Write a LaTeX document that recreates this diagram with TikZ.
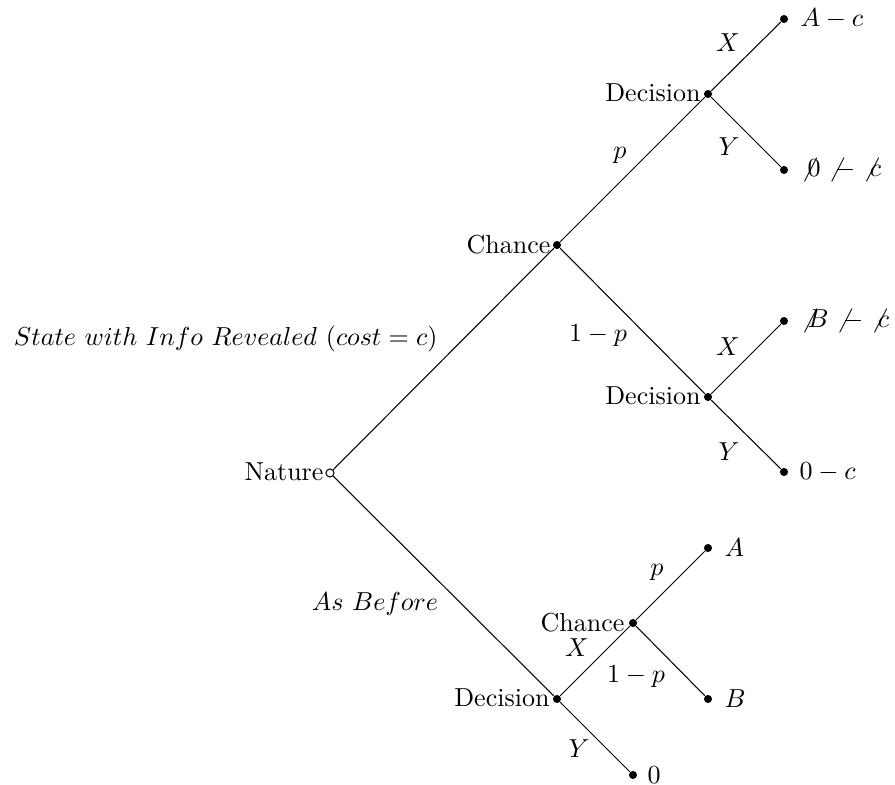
\documentclass[tikz,border=0pt]{standalone}
\begin{document}
\begin{tikzpicture}[x=0.3846pt,y=-0.3846pt,
  blackdot/.style={circle,fill=black,inner sep=0pt,minimum size=3.1pt},
  opendot/.style={circle,draw=black,fill=white,inner sep=0pt,minimum size=3.1pt,line width=0.4pt},
  conn/.style={line width=0.4pt},
  lbl/.style={inner sep=0pt},
  leaflbl/.style={inner sep=0pt,anchor=west},
  nodename/.style={inner sep=0pt,anchor=mid east}]
\useasboundingbox (0,0) rectangle (895,785);
% nodes
\node[opendot] (nat) at (330,473) {};
\node[blackdot] (ch1) at (557,245) {};
\node[blackdot] (d1) at (708,94) {};
\node[blackdot] (l1) at (784,19) {};
\node[blackdot] (l2) at (784,170) {};
\node[blackdot] (d2) at (708,397) {};
\node[blackdot] (l3) at (784,321) {};
\node[blackdot] (l4) at (784,472) {};
\node[blackdot] (d3) at (557,699) {};
\node[blackdot] (ch2) at (633,623) {};
\node[blackdot] (l5) at (708,548) {};
\node[blackdot] (l6) at (708,699) {};
\node[blackdot] (l7) at (633,775) {};
% edges
\draw[conn] (nat) -- (ch1);
\draw[conn] (nat) -- (d3);
\draw[conn] (ch1) -- (d1);
\draw[conn] (ch1) -- (d2);
\draw[conn] (d1) -- (l1);
\draw[conn] (d1) -- (l2);
\draw[conn] (d2) -- (l3);
\draw[conn] (d2) -- (l4);
\draw[conn] (d3) -- (ch2);
\draw[conn] (d3) -- (l7);
\draw[conn] (ch2) -- (l5);
\draw[conn] (ch2) -- (l6);
% node names
\node[nodename] (tnat) at (324,475) {Nature};
\node[nodename] (tch1) at (551,248) {Chance};
\node[nodename] (td1) at (701,96) {Decision};
\node[nodename] (td2) at (701,399) {Decision};
\node[nodename] (td3) at (550,701) {Decision};
\node[nodename] (tch2) at (625,626) {Chance};
% leaf labels
\node[leaflbl] (tl1) at (800,19) {$A-c$};
\node[leaflbl] (tl2) at (800,170) {$\not0\not-\not c$};
\node[leaflbl] (tl3) at (800,321) {$\not B\not-\not c$};
\node[leaflbl] (tl4) at (799,472) {$0-c$};
\node[leaflbl] (tl5) at (724,548) {$A$};
\node[leaflbl] (tl6) at (724,699) {$B$};
\node[leaflbl] (tl7) at (647,775) {$0$};
% edge labels
\node[lbl] (e1) at (728,43) {$X$};
\node[lbl] (e2) at (729,147) {$Y$};
\node[lbl] (e3) at (620,155) {$p$};
\node[lbl] (e4) at (598,336) {$1-p$};
\node[lbl] (e5) at (728,347) {$X$};
\node[lbl] (e6) at (729,452) {$Y$};
\node[lbl,anchor=east] (e7) at (438,339) {$State\ with\ Info\ Revealed\ (cost=c)$};
\node[lbl] (e8) at (375,604) {$As\ Before$};
\node[lbl] (e9) at (657,572) {$p$};
\node[lbl] (e10) at (577,648) {$X$};
\node[lbl] (e11) at (636,677) {$1-p$};
\node[lbl] (e12) at (579,749) {$Y$};
\end{tikzpicture}
\end{document}
